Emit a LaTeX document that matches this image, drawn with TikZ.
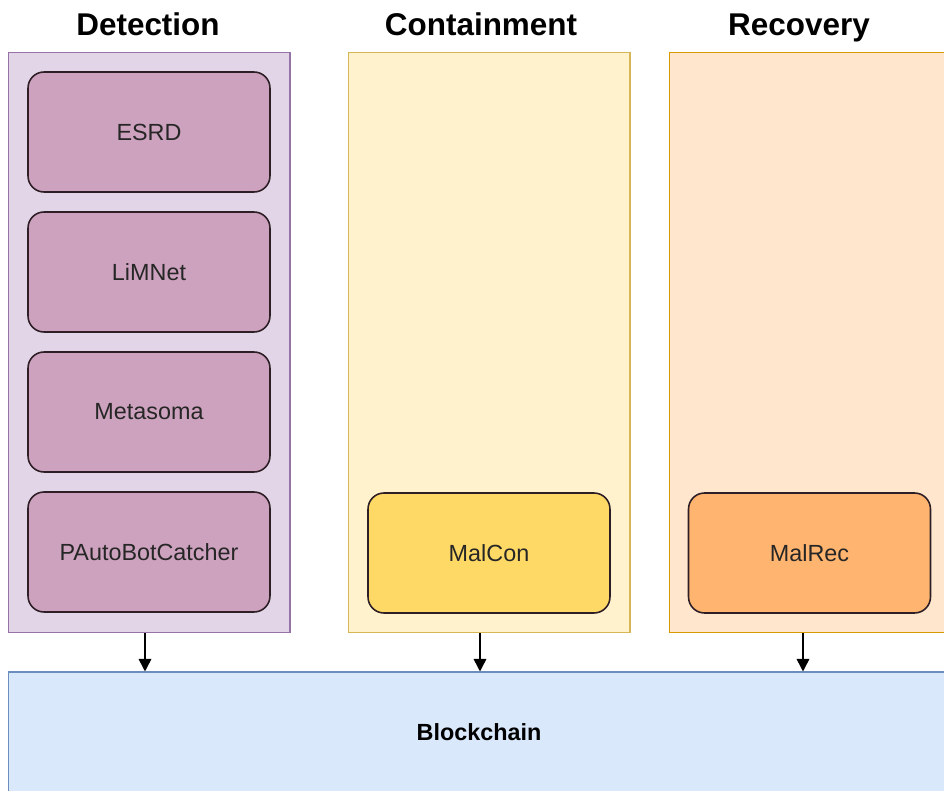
\documentclass[tikz,border=0pt]{standalone}
\usepackage{fontspec}
\setmainfont{Liberation Sans}
\usetikzlibrary{arrows.meta}
\definecolor{det_fill}{HTML}{E1D5E7}
\definecolor{det_line}{HTML}{9673A6}
\definecolor{det_box}{HTML}{CDA2BE}
\definecolor{con_fill}{HTML}{FFF2CC}
\definecolor{con_line}{HTML}{D6B656}
\definecolor{con_box}{HTML}{FFD966}
\definecolor{rec_fill}{HTML}{FFE6CC}
\definecolor{rec_line}{HTML}{D79B00}
\definecolor{rec_box}{HTML}{FFB570}
\definecolor{bc_fill}{HTML}{DAE8FC}
\definecolor{bc_line}{HTML}{6C8EBF}
\definecolor{box_line}{HTML}{2E1F26}
\tikzset{
  title/.style = {anchor=base, font=\fontsize{17.9}{20}\selectfont\bfseries},
  panel/.style = {draw, line width=0.6pt, minimum width=5.64cm, minimum height=11.62cm, inner sep=0pt},
  mod_box/.style = {draw=box_line, line width=0.9pt, rounded corners=0.32cm, minimum width=4.84cm,
    minimum height=2.4cm, inner sep=0pt, text=black!85, font=\fontsize{13.3}{16}\selectfont},
  mod_d/.style = {mod_box, fill=det_box},
  mod_c/.style = {mod_box, fill=con_box},
  mod_r/.style = {mod_box, fill=rec_box},
  chain/.style = {draw=bc_line, fill=bc_fill, line width=0.6pt, minimum width=18.84cm, minimum height=2.4cm,
    inner sep=0pt, font=\fontsize{13.3}{16}\selectfont\bfseries},
  link/.style = {line width=0.9pt, -{Triangle[width=0.25cm, length=0.25cm]}}
}

\begin{document}
\begin{tikzpicture}[x=0.02cm, y=-0.02cm]
	\useasboundingbox (0,0) rectangle (944,791);
	\clip (0,0) rectangle (944,791);
	% phase titles
	\node [title] (t_det) at (148,35) {Detection};
	\node [title] (t_con) at (481,35) {Containment};
	\node [title] (t_rec) at (799,35) {Recovery};
	% phase panels
	\node [panel, draw=det_line, fill=det_fill] (det) at (149,342.5) {};
	\node [panel, draw=con_line, fill=con_fill] (con) at (489,342.5) {};
	\node [panel, draw=rec_line, fill=rec_fill] (rec) at (810,342.5) {};
	% modules
	\node [mod_d] (esrd) at (149,132) {ESRD};
	\node [mod_d] (limnet) at (149,272) {LiMNet};
	\node [mod_d] (metasoma) at (149,412) {Metasoma};
	\node [mod_d] (pabc) at (149,552) {PAutoBotCatcher};
	\node [mod_c] (malcon) at (489,553) {MalCon};
	\node [mod_r] (malrec) at (809.5,553) {MalRec};
	% blockchain layer
	\node [chain] (bc) at (479,732) {Blockchain};
	\draw [link] ([xshift=-0.08cm]det.south) -- ([xshift=-0.08cm]det.south |- bc.north);
	\draw [link] ([xshift=-0.18cm]con.south) -- ([xshift=-0.18cm]con.south |- bc.north);
	\draw [link] ([xshift=-0.14cm]rec.south) -- ([xshift=-0.14cm]rec.south |- bc.north);
\end{tikzpicture}
\end{document}
